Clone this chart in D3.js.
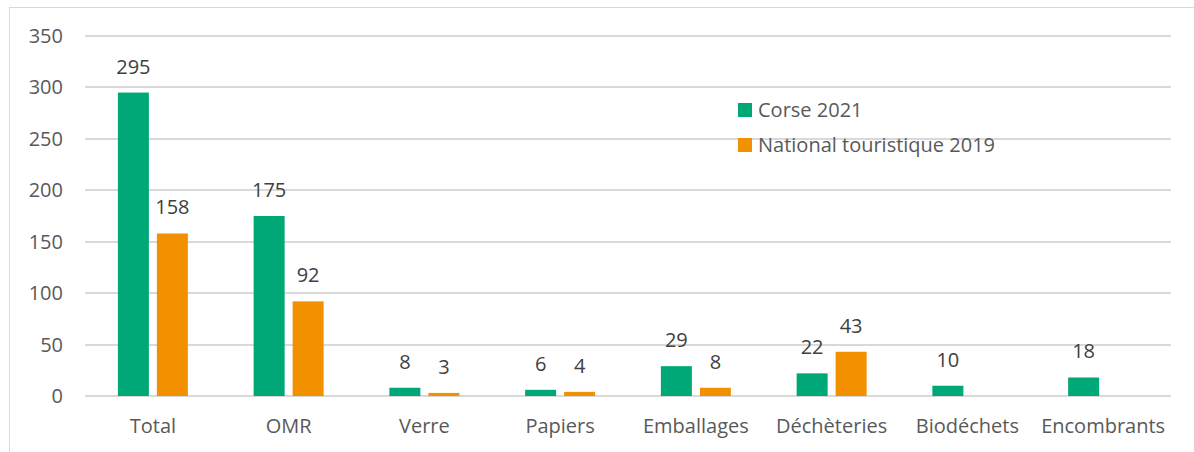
<!DOCTYPE html>
<html>
<head>
<meta charset="utf-8">
<script src="https://cdn.jsdelivr.net/npm/d3@7"></script>
<style>
  body { margin: 0; background: #fff; }
  svg { display: block; font-family: "Open Sans", sans-serif; }
</style>
</head>
<body>
<script>
var categories = ["Total", "OMR", "Verre", "Papiers", "Emballages", "Déchèteries", "Biodéchets", "Encombrants"];
var seriesNames = ["Corse 2021", "National touristique 2019"];
var corse2021 = [295, 175, 8, 6, 29, 22, 10, 18];
var national2019 = [158, 92, 3, 4, 8, 43, null, null];
var yTicks = [0, 50, 100, 150, 200, 250, 300, 350];
var colors = ["#00a878", "#f29100"];

var width = 1194, height = 452;
var plotLeft = 85, plotRight = 1171, plotTop = 36, plotBottom = 396;
var fontSize = "20px";

var svg = d3.select("body").append("svg")
    .attr("width", width)
    .attr("height", height);

// chart frame
svg.append("rect")
    .attr("x", 9.5).attr("y", 7.5)
    .attr("width", 1200).attr("height", 460)
    .attr("fill", "none")
    .attr("stroke", "#d9d9d9");

var x = d3.scaleBand()
    .domain(categories)
    .range([plotLeft, plotRight]);

var y = d3.scaleLinear()
    .domain([0, 350])
    .range([plotBottom, plotTop]);

// gridlines
svg.selectAll("line.grid")
    .data(yTicks)
    .enter().append("line")
    .attr("class", "grid")
    .attr("x1", plotLeft).attr("x2", plotRight)
    .attr("y1", function(d) { return Math.round(y(d)); })
    .attr("y2", function(d) { return Math.round(y(d)); })
    .attr("stroke", "#d9d9d9")
    .attr("stroke-width", 2);

// y labels
svg.selectAll("text.ytick")
    .data(yTicks)
    .enter().append("text")
    .attr("class", "ytick")
    .attr("x", 63)
    .attr("y", function(d) { return y(d); })
    .attr("dy", "0.35em")
    .attr("text-anchor", "end")
    .attr("fill", "#595959")
    .style("font-size", fontSize)
    .text(function(d) { return d; });

// x labels
svg.selectAll("text.xtick")
    .data(categories)
    .enter().append("text")
    .attr("class", "xtick")
    .attr("x", function(d) { return x(d) + x.bandwidth() / 2; })
    .attr("y", 433)
    .attr("text-anchor", "middle")
    .attr("fill", "#595959")
    .style("font-size", fontSize)
    .text(function(d) { return d; });

var barW = 31, gap = 4;
var series = [corse2021, national2019];

series.forEach(function(vals, s) {
    var data = categories.map(function(c, i) { return { cat: c, v: vals[i] }; })
        .filter(function(d) { return d.v != null; });
    var off = s === 0 ? -gap - barW : gap;
    var g = svg.append("g");
    g.selectAll("rect")
        .data(data)
        .enter().append("rect")
        .attr("x", function(d) { return x(d.cat) + x.bandwidth() / 2 + off; })
        .attr("y", function(d) { return y(d.v); })
        .attr("width", barW)
        .attr("height", function(d) { return y(0) - y(d.v); })
        .attr("fill", colors[s]);
    g.selectAll("text")
        .data(data)
        .enter().append("text")
        .attr("x", function(d) { return x(d.cat) + x.bandwidth() / 2 + off + barW / 2; })
        .attr("y", function(d) { return y(d.v) - 19; })
        .attr("text-anchor", "middle")
        .attr("fill", "#404040")
        .style("font-size", fontSize)
        .text(function(d) { return d.v; });
});

// legend
var legend = svg.append("g").attr("transform", "translate(738,103)");
seriesNames.forEach(function(name, i) {
    legend.append("rect")
        .attr("x", 0).attr("y", i * 35)
        .attr("width", 14).attr("height", 14)
        .attr("fill", colors[i]);
    legend.append("text")
        .attr("x", 20).attr("y", i * 35 + 7)
        .attr("dy", "0.35em")
        .attr("fill", "#595959")
        .style("font-size", fontSize)
        .text(name);
});
</script>
</body>
</html>
